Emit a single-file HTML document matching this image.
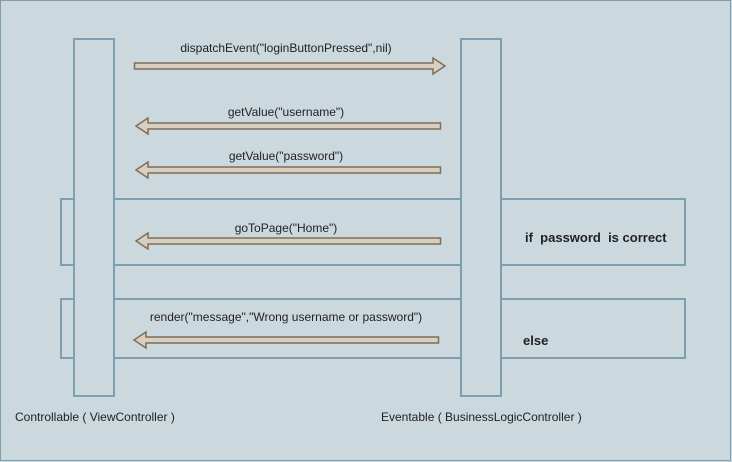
<!DOCTYPE html>
<html><head><meta charset="utf-8"><style>
body{margin:0;background:#cbd8de;}
svg{display:block}
text{font-family:"Liberation Sans",sans-serif;fill:#222;}
</style></head><body>
<svg width="732" height="462" viewBox="0 0 732 462">
<rect x="0.5" y="0.5" width="730" height="460" fill="#cbd8de" stroke="#7d9fb0"/>
<g fill="#cbd8de" stroke="#7d9fb0" stroke-width="2">
<rect x="61" y="199" width="624" height="66"/>
<rect x="61" y="299" width="624" height="59"/>
<rect x="74" y="39" width="40" height="357"/>
<rect x="461" y="39" width="40" height="357"/>
</g>
<g fill="#d7cfc2" stroke="#7f6e55" stroke-width="1.5">
<polygon points="134.5,63 433,63 433,58 445,66 433,74 433,69 134.5,69"/>
<polygon points="440.5,123 148,123 148,118 136,126 148,134 148,129 440.5,129"/>
<polygon points="440.5,167 148,167 148,162 136,170 148,178 148,173 440.5,173"/>
<polygon points="440.5,238 148,238 148,233 136,241 148,249 148,244 440.5,244"/>
<polygon points="438.5,337 146,337 146,332 134,340 146,348 146,343 438.5,343"/>
</g>
<g font-size="12" text-anchor="middle">
<text x="286" y="52">dispatchEvent("loginButtonPressed",nil)</text>
<text x="286" y="116">getValue("username")</text>
<text x="286" y="160">getValue("password")</text>
<text x="286" y="232">goToPage("Home")</text>
<text x="286" y="321">render("message","Wrong username or password")</text>
</g>
<g font-size="13" font-weight="bold">
<text x="525" y="242" xml:space="preserve">if  password  is correct</text>
<text x="523" y="345">else</text>
</g>
<g font-size="12">
<text x="15" y="421">Controllable ( ViewController )</text>
<text x="381" y="421">Eventable ( BusinessLogicController )</text>
</g>
</svg>
</body></html>
